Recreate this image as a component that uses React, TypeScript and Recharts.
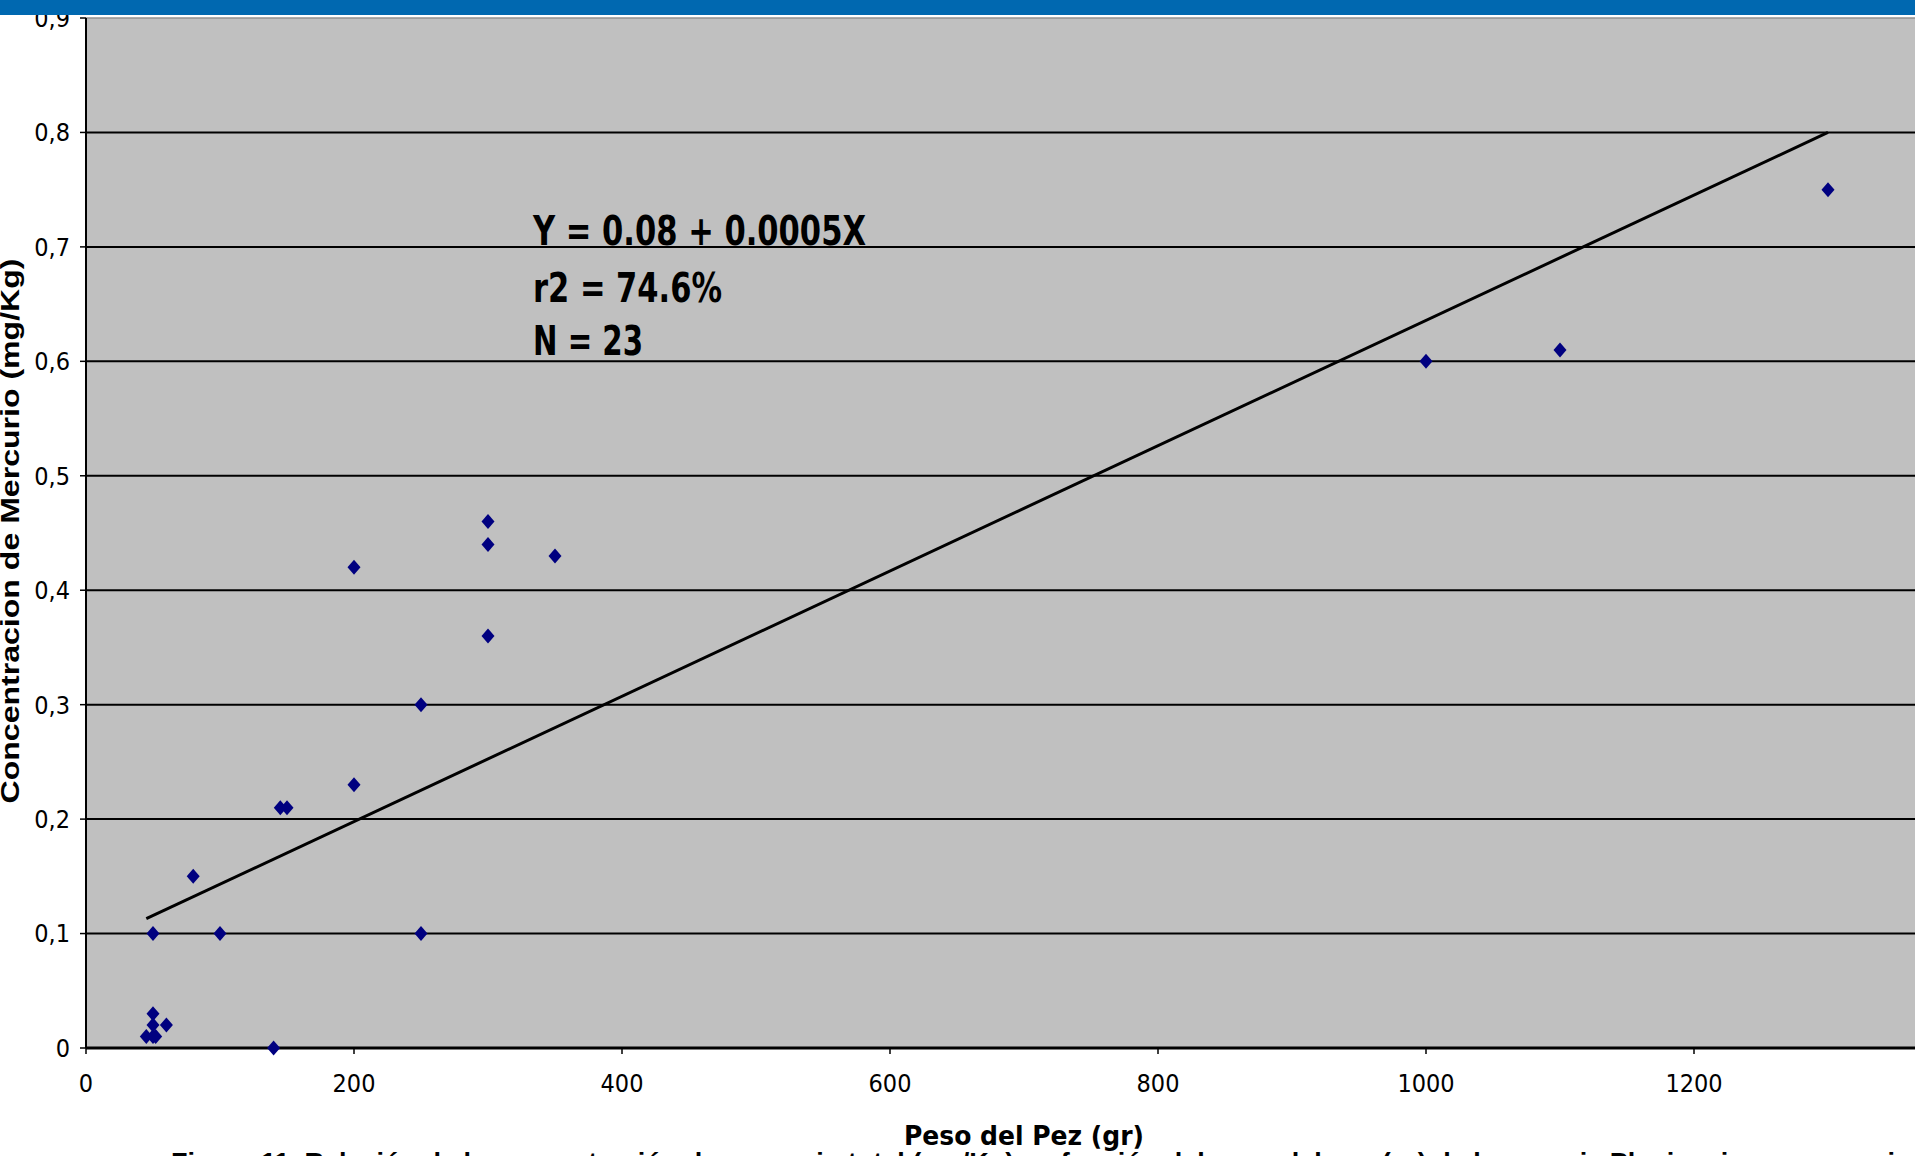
import {
  CartesianGrid,
  ComposedChart,
  Customized,
  ReferenceLine,
  Scatter,
  XAxis,
  YAxis,
} from "recharts";

// peso del pez (gr) y concentración de mercurio (mg/Kg)
const pesos = [45, 50, 52, 50, 60, 50, 50, 80, 100, 140, 145, 150, 200, 200, 250, 250, 300, 300, 300, 350, 1000, 1100, 1300];
const mercurio = [0.01, 0.01, 0.01, 0.02, 0.02, 0.03, 0.1, 0.15, 0.1, 0, 0.21, 0.21, 0.23, 0.42, 0.3, 0.1, 0.46, 0.44, 0.36, 0.43, 0.6, 0.61, 0.75];

// recta de regresión (extremos)
const tendenciaX = [45, 1300];
const tendenciaY = [0.113, 0.8];

const xTicks = [0, 200, 400, 600, 800, 1000, 1200];
const yTicks = [0, 0.1, 0.2, 0.3, 0.4, 0.5, 0.6, 0.7, 0.8, 0.9];
const gridValues = [0.1, 0.2, 0.3, 0.4, 0.5, 0.6, 0.7, 0.8];

const ecuacion = ["Y = 0.08 + 0.0005X", "r2 = 74.6%", "N = 23"];
const tituloX = "Peso del Pez (gr)";
const tituloY = "Concentracion de Mercurio (mg/Kg)";
const leyenda =
  "Figura 11. Relación de la concentración de mercurio total (mg/Kg) en función del peso del pez (gr) de la especie Plagioscion squamosissimus";

const puntos = pesos.map((x, i) => ({ x, y: mercurio[i] }));
const tendencia = tendenciaX.map((x, i) => ({ x, y: tendenciaY[i] }));

const NARROW = "'Liberation Sans Narrow', 'DejaVu Sans Condensed', Arial, sans-serif";

function Diamond(props: any) {
  const { cx, cy } = props;
  if (cx == null || cy == null) return <g />;
  return (
    <polygon
      points={`${cx},${cy - 7.5} ${cx + 6.5},${cy} ${cx},${cy + 7.5} ${cx - 6.5},${cy}`}
      fill="#000080"
    />
  );
}

function Textos() {
  return (
    <g>
      {/* ecuación de la recta */}
      <text x={533} y={245} fontFamily={NARROW} fontWeight="bold" fontSize={40} textLength={333} lengthAdjust="spacingAndGlyphs" fill="#000">
        {ecuacion[0]}
      </text>
      <text x={533} y={302} fontFamily={NARROW} fontWeight="bold" fontSize={40} textLength={189} lengthAdjust="spacingAndGlyphs" fill="#000">
        {ecuacion[1]}
      </text>
      <text x={533} y={355} fontFamily={NARROW} fontWeight="bold" fontSize={40} textLength={110} lengthAdjust="spacingAndGlyphs" fill="#000">
        {ecuacion[2]}
      </text>
      {/* títulos de ejes */}
      <text x={1024} y={1145} textAnchor="middle" fontFamily={NARROW} fontWeight="bold" fontSize={27} textLength={240} lengthAdjust="spacingAndGlyphs" fill="#000">
        {tituloX}
      </text>
      <text
        x={19}
        y={531}
        textAnchor="middle"
        transform="rotate(-90, 19, 531)"
        fontFamily="'Liberation Sans', Arial, sans-serif"
        fontWeight="bold"
        fontSize={25}
        textLength={545}
        lengthAdjust="spacingAndGlyphs"
        fill="#000"
      >
        {tituloY}
      </text>
      {/* pie de figura, recortado por el borde inferior como en el original */}
      <text x={171} y={1172} fontFamily="'Liberation Sans', Arial, sans-serif" fontWeight="bold" fontSize={27} fill="#000">
        {leyenda}
      </text>
    </g>
  );
}

export default function App() {
  return (
    <div
      style={{
        position: "absolute",
        left: 0,
        top: 0,
        width: 1915,
        height: 1156,
        overflow: "hidden",
        background: "#fff",
      }}
    >
      <ComposedChart
        width={2000}
        height={1180}
        margin={{ top: 18, right: 38, left: 0, bottom: 0 }}
      >
        <CartesianGrid
          fill="#C0C0C0"
          vertical={false}
          horizontalValues={gridValues}
          stroke="#000"
          strokeWidth={2}
        />
        <XAxis
          type="number"
          dataKey="x"
          domain={[0, 1400]}
          ticks={xTicks}
          allowDataOverflow
          height={132}
          tickSize={6}
          tickMargin={20}
          axisLine={{ stroke: "#000", strokeWidth: 3 }}
          tickLine={{ stroke: "#000", strokeWidth: 1.5 }}
          tick={{ fontFamily: NARROW, fontSize: 25, fill: "#000" }}
        />
        <YAxis
          type="number"
          dataKey="y"
          domain={[0, 0.9]}
          ticks={yTicks}
          width={86}
          tickSize={6}
          tickMargin={10}
          tickFormatter={(v: number) => String(v).replace(".", ",")}
          axisLine={{ stroke: "#000", strokeWidth: 2 }}
          tickLine={{ stroke: "#000", strokeWidth: 1.5 }}
          tick={{ fontFamily: NARROW, fontSize: 25, fill: "#000" }}
        />
        <ReferenceLine y={0.9} stroke="#909090" strokeWidth={1.5} />
        <Scatter
          data={tendencia}
          line={{ stroke: "#000", strokeWidth: 3 }}
          shape={() => <g />}
          isAnimationActive={false}
        />
        <Scatter
          data={puntos}
          shape={(p: any) => <Diamond {...p} />}
          isAnimationActive={false}
        />
        <Customized component={Textos} />
      </ComposedChart>
      <div
        style={{
          position: "absolute",
          left: 0,
          top: 0,
          width: 1915,
          height: 15,
          background: "#0068B0",
        }}
      />
    </div>
  );
}
